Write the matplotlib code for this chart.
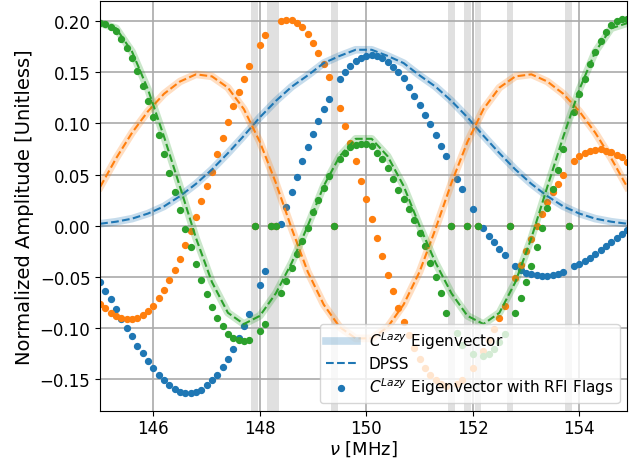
import numpy as np
import matplotlib
matplotlib.use('Agg')
import matplotlib.pyplot as plt

# channel frequencies [MHz]
freqs = np.linspace(145.0, 154.9, 100)
# flagged (RFI) channels
flag_freqs = [147.9, 148.2, 148.3, 149.4, 151.6, 151.9, 152.1, 152.7, 153.8]

# eigenvectors with RFI flags (zero at flagged channels)
vec_blue = [
    -0.055, -0.064, -0.072, -0.081, -0.091, -0.100, -0.108, -0.117, -0.124, -0.132,
    -0.139, -0.146, -0.151, -0.156, -0.159, -0.162, -0.163, -0.163, -0.162, -0.160,
    -0.156, -0.151, -0.146, -0.138, -0.130, -0.120, -0.110, -0.098, -0.086, 0.0,
    -0.058, -0.044, 0.0, 0.0, 0.002, 0.018, 0.033, 0.048, 0.063, 0.077,
    0.090, 0.102, 0.114, 0.124, 0.0, 0.143, 0.150, 0.156, 0.161, 0.164,
    0.166, 0.167, 0.166, 0.164, 0.160, 0.155, 0.150, 0.144, 0.136, 0.127,
    0.118, 0.108, 0.099, 0.089, 0.078, 0.068, 0.0, 0.046, 0.036, 0.0,
    0.016, 0.0, -0.002, -0.010, -0.016, -0.023, -0.029, 0.0, -0.039, -0.043,
    -0.046, -0.047, -0.048, -0.049, -0.049, -0.048, -0.047, -0.045, 0.0, -0.039,
    -0.037, -0.034, -0.031, -0.028, -0.024, -0.020, -0.016, -0.012, -0.008, -0.004,
]
vec_orange = [
    -0.076, -0.080, -0.085, -0.088, -0.090, -0.091, -0.091, -0.090, -0.087, -0.083,
    -0.078, -0.071, -0.063, -0.053, -0.043, -0.032, -0.019, -0.005, 0.009, 0.024,
    0.039, 0.053, 0.070, 0.086, 0.101, 0.117, 0.131, 0.143, 0.156, 0.0,
    0.177, 0.186, 0.0, 0.0, 0.200, 0.201, 0.201, 0.198, 0.194, 0.187,
    0.179, 0.169, 0.158, 0.145, 0.0, 0.115, 0.098, 0.081, 0.063, 0.044,
    0.026, 0.007, -0.012, -0.030, -0.048, -0.064, -0.080, -0.094, -0.107, -0.119,
    -0.130, -0.139, -0.146, -0.151, -0.155, -0.157, 0.0, -0.155, -0.151, 0.0,
    -0.139, 0.0, -0.122, -0.112, -0.101, -0.090, -0.078, 0.0, -0.051, -0.038,
    -0.025, -0.013, 0.000, 0.012, 0.023, 0.033, 0.041, 0.050, 0.0, 0.063,
    0.068, 0.071, 0.073, 0.074, 0.075, 0.073, 0.072, 0.069, 0.067, 0.062,
]
vec_green = [
    0.198, 0.197, 0.194, 0.190, 0.183, 0.174, 0.164, 0.151, 0.137, 0.122,
    0.106, 0.089, 0.070, 0.052, 0.033, 0.015, -0.003, -0.021, -0.037, -0.053,
    -0.067, -0.079, -0.090, -0.098, -0.106, -0.110, -0.112, -0.113, -0.112, 0.0,
    -0.103, -0.096, 0.0, 0.0, -0.066, -0.054, -0.041, -0.028, -0.015, -0.002,
    0.013, 0.025, 0.037, 0.049, 0.0, 0.065, 0.071, 0.077, 0.079, 0.080,
    0.080, 0.078, 0.071, 0.065, 0.056, 0.046, 0.035, 0.026, 0.016, 0.006,
    -0.007, -0.020, -0.036, -0.050, -0.066, -0.085, 0.0, -0.105, -0.116, 0.0,
    -0.125, 0.0, -0.127, -0.125, -0.120, -0.114, -0.106, 0.0, -0.085, -0.071,
    -0.055, -0.039, -0.021, -0.002, 0.017, 0.036, 0.055, 0.075, 0.0, 0.111,
    0.129, 0.143, 0.158, 0.170, 0.181, 0.189, 0.196, 0.200, 0.202, 0.202,
]

# DPSS / C^Lazy eigenvectors without flags, sampled every 0.3 MHz
dpss_freqs = np.linspace(145.0, 154.9, 34)
dpss_blue = [
    0.002, 0.004, 0.007, 0.012, 0.019, 0.029, 0.041, 0.055, 0.071, 0.088,
    0.106, 0.122, 0.136, 0.147, 0.159, 0.166, 0.172,
    0.172, 0.166, 0.159, 0.147, 0.136, 0.122, 0.106, 0.088, 0.071, 0.055,
    0.041, 0.029, 0.019, 0.012, 0.007, 0.004, 0.002,
]
dpss_orange = [
    0.038, 0.066, 0.091, 0.112, 0.129, 0.141, 0.148, 0.146, 0.135, 0.114,
    0.082, 0.042, -0.003, -0.045, -0.077, -0.099, -0.110,
    -0.110, -0.099, -0.077, -0.045, -0.003, 0.042, 0.082, 0.114, 0.135, 0.146,
    0.148, 0.141, 0.129, 0.112, 0.091, 0.066, 0.038,
]
dpss_green = [
    0.198, 0.193, 0.170, 0.133, 0.087, 0.038, -0.012, -0.055, -0.085, -0.096,
    -0.088, -0.066, -0.036, 0.000, 0.039, 0.068, 0.085,
    0.085, 0.068, 0.039, 0.000, -0.036, -0.066, -0.088, -0.096, -0.085, -0.055,
    -0.012, 0.038, 0.087, 0.133, 0.170, 0.193, 0.198,
]

fig, ax = plt.subplots(figsize=(6.38, 4.64), dpi=100)
fig.subplots_adjust(left=0.157, right=0.983, top=0.996, bottom=0.112)

for f in flag_freqs:
    ax.axvspan(f - 0.06, f + 0.06, color='0.88', lw=0, zorder=0)

series = [
    ('C0', dpss_blue, vec_blue),
    ('C1', dpss_orange, vec_orange),
    ('C2', dpss_green, vec_green),
]
for n, (c, dp, vec) in enumerate(series):
    ax.plot(dpss_freqs, dp, color=c, lw=5.5, alpha=0.25,
            label=r'$C^{Lazy}$ Eigenvector' if n == 0 else None)
    ax.plot(dpss_freqs, dp, color=c, ls='--', lw=1.5,
            label='DPSS' if n == 0 else None)
    ax.scatter(freqs, vec, color=c, s=18,
               label=r'$C^{Lazy}$ Eigenvector with RFI Flags' if n == 0 else None)

ax.set_xlim(145.0, 154.9)
ax.set_ylim(-0.181, 0.2198)
ax.set_xticks([146, 148, 150, 152, 154])
ax.set_yticks([-0.15, -0.10, -0.05, 0.0, 0.05, 0.10, 0.15, 0.20])
ax.tick_params(labelsize=12)
ax.tick_params(axis='x', pad=2)
ax.grid(True, color='#aaaaaa', lw=1.2)
ax.set_axisbelow(True)
ax.set_xlabel(r'$\nu$ [MHz]', fontsize=13, labelpad=1)
ax.set_ylabel('Normalized Amplitude [Unitless]', fontsize=14)
ax.legend(loc='lower right', fontsize=11, labelspacing=0.3)

plt.savefig('out.png')
